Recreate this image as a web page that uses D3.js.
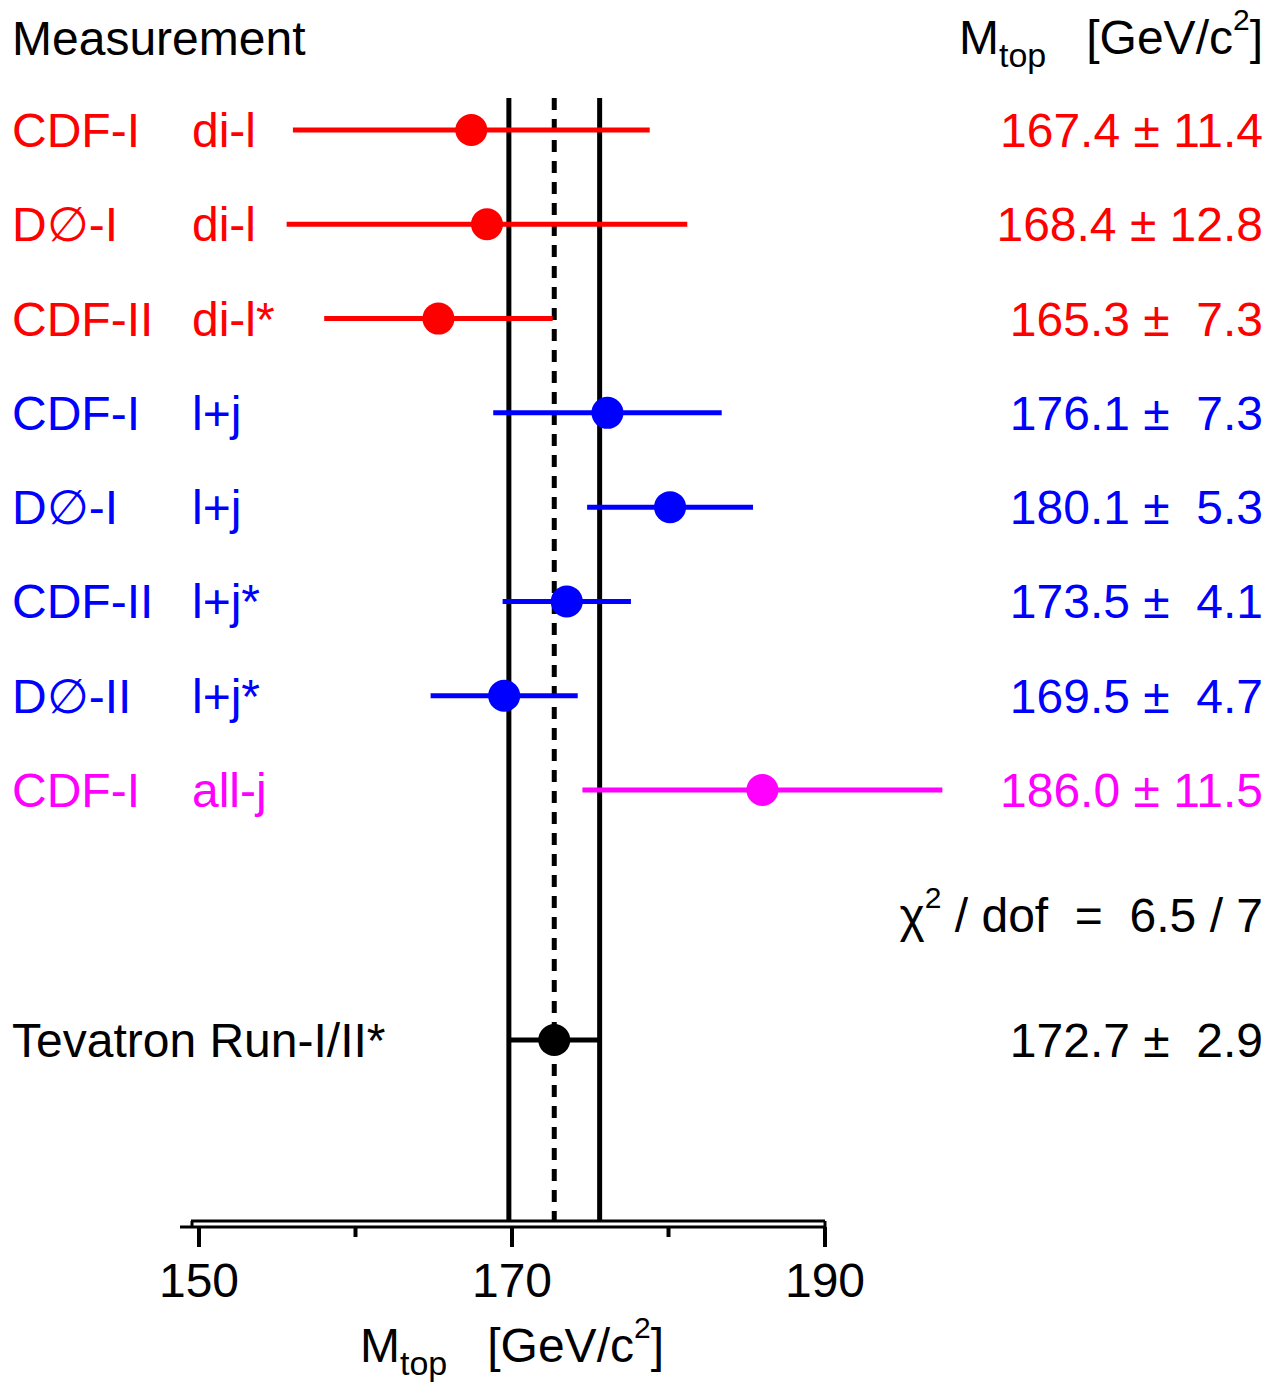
<!DOCTYPE html>
<html><head><meta charset="utf-8">
<script src="https://cdn.jsdelivr.net/npm/d3@7"></script>
<style>body{margin:0;background:#fff}text{font-family:"Liberation Sans",Arial,sans-serif}</style>
</head><body><svg id="c" width="1278" height="1385"></svg>
<script>
// measurements
const experiments = ["CDF-I", "D∅-I", "CDF-II", "CDF-I", "D∅-I", "CDF-II", "D∅-II", "CDF-I"];
const channels = ["di-l", "di-l", "di-l*", "l+j", "l+j", "l+j*", "l+j*", "all-j"];
const values = [167.4, 168.4, 165.3, 176.1, 180.1, 173.5, 169.5, 186.0];
const errors = [11.4, 12.8, 7.3, 7.3, 5.3, 4.1, 4.7, 11.5];
const colors = ["#ff0000", "#ff0000", "#ff0000", "#0000ff", "#0000ff", "#0000ff", "#0000ff", "#ff00ff"];
const combined = {value: 172.7, error: 2.9};
const xTicks = [150, 170, 190];
const xMinor = [160, 180];

const FS = 48;
const svg = d3.select("#c");
const x = d3.scaleLinear().domain([150, 190]).range([199, 825]);
const y = d3.scaleLinear().domain([0, 7]).range([130, 790]);
const yComb = 1040, axisY = 1221;

function drawPoint(v, e, yy, col) {
  svg.append("line").attr("x1", x(v - e)).attr("x2", x(v + e)).attr("y1", yy).attr("y2", yy)
    .attr("stroke", col).attr("stroke-width", 5);
  svg.append("circle").attr("cx", x(v)).attr("cy", yy).attr("r", 16).attr("fill", col);
}

// combined band lines
[combined.value - combined.error, combined.value + combined.error].forEach(v => {
  svg.append("line").attr("x1", x(v)).attr("x2", x(v)).attr("y1", 98).attr("y2", axisY)
    .attr("stroke", "#000").attr("stroke-width", 5);
});
svg.append("line").attr("x1", x(combined.value)).attr("x2", x(combined.value)).attr("y1", 98).attr("y2", axisY)
  .attr("stroke", "#000").attr("stroke-width", 5).attr("stroke-dasharray", "12,9");

values.forEach((v, i) => {
  const yy = y(i);
  drawPoint(v, errors[i], yy, colors[i]);
  svg.append("text").attr("x", 12).attr("y", yy + 17).attr("font-size", FS).attr("fill", colors[i]).text(experiments[i]);
  svg.append("text").attr("x", 192).attr("y", yy + 17).attr("font-size", FS).attr("fill", colors[i]).text(channels[i]);
  svg.append("text").attr("x", 1263).attr("y", yy + 17).attr("font-size", FS).attr("fill", colors[i])
    .attr("text-anchor", "end").attr("xml:space", "preserve")
    .text(v.toFixed(1) + " ± " + (errors[i] < 10 ? " " : "") + errors[i].toFixed(1));
});

drawPoint(combined.value, combined.error, yComb, "#000");
svg.append("text").attr("x", 12).attr("y", yComb + 17).attr("font-size", FS).text("Tevatron Run-I/II*");
svg.append("text").attr("x", 1263).attr("y", yComb + 17).attr("font-size", FS).attr("text-anchor", "end")
  .attr("xml:space", "preserve").text(combined.value.toFixed(1) + " ±  " + combined.error.toFixed(1));

// chi2
const chi = svg.append("text").attr("x", 1263).attr("y", 932).attr("font-size", FS).attr("text-anchor", "end").attr("xml:space", "preserve");
chi.append("tspan").text("χ");
chi.append("tspan").attr("font-size", 30).attr("dy", -24).text("2");
chi.append("tspan").attr("dy", 24).text(" / dof  =  6.5 / 7");

// headers
svg.append("text").attr("x", 12).attr("y", 55).attr("font-size", FS).text("Measurement");
function massLabel(xx, yy, anchor) {
  const t = svg.append("text").attr("x", xx).attr("y", yy).attr("font-size", FS).attr("text-anchor", anchor).attr("xml:space", "preserve");
  t.append("tspan").text("M");
  t.append("tspan").attr("font-size", 34).attr("dy", 13).text("top");
  t.append("tspan").attr("dy", -13).text("   [GeV/c");
  t.append("tspan").attr("font-size", 30).attr("dy", -24).text("2");
  t.append("tspan").attr("dy", 24).text("]");
}
massLabel(1263, 54, "end");
massLabel(512, 1362, "middle");

// axis
svg.append("line").attr("x1", 191).attr("x2", x(190)).attr("y1", axisY).attr("y2", axisY).attr("stroke", "#000").attr("stroke-width", 3);
svg.append("line").attr("x1", 180).attr("x2", x(190)).attr("y1", axisY + 6).attr("y2", axisY + 6).attr("stroke", "#000").attr("stroke-width", 3);
svg.append("line").attr("x1", 192).attr("x2", 192).attr("y1", axisY).attr("y2", axisY + 6).attr("stroke", "#000").attr("stroke-width", 3);
svg.append("line").attr("x1", x(190)).attr("x2", x(190)).attr("y1", axisY).attr("y2", axisY + 6).attr("stroke", "#000").attr("stroke-width", 3);
xTicks.forEach(t => {
  svg.append("line").attr("x1", x(t)).attr("x2", x(t)).attr("y1", axisY + 6).attr("y2", axisY + 26).attr("stroke", "#000").attr("stroke-width", 4);
  svg.append("text").attr("x", x(t)).attr("y", 1297).attr("font-size", FS).attr("text-anchor", "middle").text(t);
});
xMinor.forEach(t => {
  svg.append("line").attr("x1", x(t)).attr("x2", x(t)).attr("y1", axisY + 6).attr("y2", axisY + 16).attr("stroke", "#000").attr("stroke-width", 4);
});
</script></body></html>
